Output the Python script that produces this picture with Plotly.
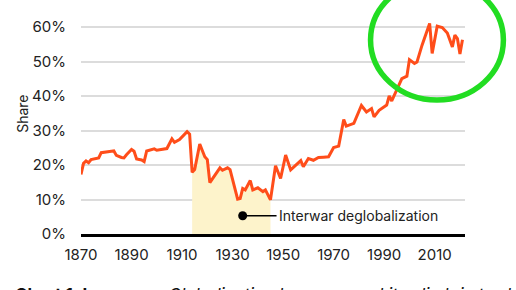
import plotly.graph_objects as go

years = [1870, 1871, 1872, 1873, 1874, 1876, 1877, 1878, 1880, 1882, 1883, 1884, 1886, 1887, 1888,
         1890, 1891, 1892, 1894, 1895, 1896, 1898, 1899, 1900, 1902, 1904, 1906, 1907, 1909, 1912,
         1913, 1914, 1915, 1917, 1919, 1920, 1921, 1923, 1925, 1926, 1928, 1929, 1932, 1933, 1934,
         1935, 1937, 1938, 1940, 1942, 1943, 1945, 1947, 1949, 1951, 1953, 1955, 1957, 1958, 1960,
         1962, 1964, 1966, 1968, 1970, 1972, 1974, 1975, 1978, 1981, 1983, 1985, 1986, 1988, 1991,
         1992, 1993, 1995, 1997, 1999, 2000, 2002, 2003, 2005, 2007, 2008, 2009, 2011, 2013, 2015,
         2017, 2018, 2019, 2020, 2021]
share = [17.3, 20.5, 21.2, 20.7, 21.6, 22.0, 22.1, 23.6, 23.9, 24.0, 24.1, 22.8, 22.2, 22.1, 23.0,
         24.5, 24.0, 21.8, 21.5, 21.0, 24.1, 24.4, 24.7, 24.3, 24.5, 24.8, 27.6, 26.6, 27.4, 29.7,
         29.0, 17.9, 18.7, 26.1, 22.4, 21.6, 14.9, 17.1, 19.2, 18.5, 19.2, 18.7, 10.1, 10.3, 13.2,
         12.8, 15.5, 12.8, 13.4, 12.3, 12.8, 9.9, 19.8, 16.1, 22.9, 18.6, 20.0, 21.3, 19.5, 21.9,
         21.4, 22.2, 22.3, 22.4, 25.1, 25.5, 33.2, 31.3, 32.1, 37.3, 35.4, 36.4, 34.0, 35.9, 37.4,
         40.1, 38.6, 41.7, 45.1, 45.8, 50.6, 49.5, 49.9, 54.8, 59.1, 61.1, 52.4, 60.3, 59.9, 58.3,
         54.3, 57.7, 56.7, 52.2, 56.4]

shade_start, shade_end = 1914, 1945
annot_year, annot_val = 1934, 5.3
annot_text = "Interwar deglobalization"
x_ticks = [1870, 1890, 1910, 1930, 1950, 1970, 1990, 2010]
y_ticks = [0, 10, 20, 30, 40, 50, 60]
y_tick_labels = ["0%", "10%", "20%", "30%", "40%", "50%", "60%"]

sx = [y for y in years if shade_start <= y <= shade_end]
sy = [v for y, v in zip(years, share) if shade_start <= y <= shade_end]

fig = go.Figure()
fig.add_trace(go.Scatter(x=sx, y=sy, mode="lines", fill="tozeroy",
                         fillcolor="#fdf3cb", line=dict(width=0), hoverinfo="skip"))
fig.add_trace(go.Scatter(x=years, y=share, mode="lines",
                         line=dict(color="#ff4d1a", width=3)))
fig.add_trace(go.Scatter(x=[annot_year], y=[annot_val], mode="markers",
                         marker=dict(color="black", size=9)))

fig.add_shape(type="line", xref="x", yref="y", x0=annot_year, x1=1947.4,
              y0=annot_val, y1=annot_val, line=dict(color="black", width=1.5))
fig.add_annotation(x=1947.6, y=annot_val, xref="x", yref="y", text=annot_text,
                   showarrow=False, xanchor="left", yanchor="middle",
                   font=dict(size=14, color="#222222", family="Inter"))

# highlight ellipse
fig.add_shape(type="circle", xref="paper", yref="paper",
              x0=0.754, x1=1.100, y0=0.598, y1=1.134,
              line=dict(color="#22dd22", width=5.5), layer="above")

fig.add_annotation(xref="paper", yref="paper", x=-0.176, y=-0.220,
                   xanchor="left", yanchor="top", showarrow=False,
                   text="<b>Chart 1: Increase</b>   <i>Globalization has resumed its climb in trade activity</i>",
                   font=dict(size=17, color="#111111", family="Inter"))

fig.add_annotation(xref="paper", yref="paper", x=-0.152, y=0.535, text="Share",
                   textangle=-90, showarrow=False, xanchor="center", yanchor="middle",
                   font=dict(size=14, color="#222222", family="Inter"))

fig.update_layout(
    width=516, height=290,
    margin=dict(l=81, r=51, t=10, b=56),
    paper_bgcolor="white", plot_bgcolor="white",
    showlegend=False,
    font=dict(family="Inter", size=15, color="#222222"),
    xaxis=dict(range=[1870, 2022], tickvals=x_ticks, showgrid=False, zeroline=False,
               showline=True, linecolor="black", linewidth=3,
               ticks="outside", ticklen=5, tickcolor="rgba(0,0,0,0)",
               tickfont=dict(size=15)),
    yaxis=dict(range=[0, 65], tickvals=y_ticks, ticktext=y_tick_labels, showgrid=True,
               gridcolor="#dcdcdc", gridwidth=1.5, zeroline=False,
               ticks="outside", ticklen=11, tickcolor="rgba(0,0,0,0)",
               tickfont=dict(size=15)),
)

fig.write_html("out.html")
